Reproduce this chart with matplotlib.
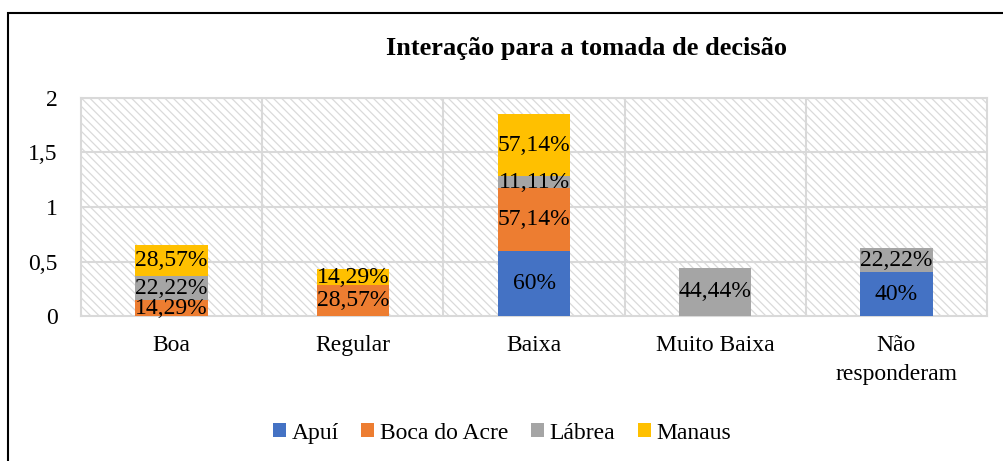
import matplotlib as mpl
mpl.use('agg')
import matplotlib.pyplot as plt
from matplotlib.patches import Rectangle
import numpy as np

categories = ["Boa", "Regular", "Baixa", "Muito Baixa", "Não\nresponderam"]
series = ["Apuí", "Boca do Acre", "Lábrea", "Manaus"]
apui = [0, 0, 0.60, 0, 0.40]
boca = [0.1429, 0.2857, 0.5714, 0, 0]
labrea = [0.2222, 0, 0.1111, 0.4444, 0.2222]
manaus = [0.2857, 0.1429, 0.5714, 0, 0]
colors = ["#4472c4", "#ed7d31", "#a5a5a5", "#ffc000"]

plt.rcParams['font.family'] = ['Liberation Serif', 'DejaVu Serif']
plt.rcParams['hatch.linewidth'] = 0.9
fs = 17

fig = plt.figure(figsize=(10.04, 4.61), dpi=100)
ax = fig.add_axes([81 / 1004, 1 - 316 / 461, (987 - 81) / 1004, (316 - 98) / 461])

# hatched plot area
ax.add_patch(Rectangle((0, 0), 1, 1, transform=ax.transAxes, facecolor='white',
                       edgecolor='#dadada', hatch='\\\\\\\\', lw=0, zorder=0))

x = np.arange(len(categories))
bottom = np.zeros(len(categories))
for name, vals, c in zip(series, [apui, boca, labrea, manaus], colors):
    vals = np.array(vals)
    ax.bar(x, vals, 0.4, bottom=bottom, color=c, label=name, zorder=3)
    for xi, v, b in zip(x, vals, bottom):
        if v > 0:
            txt = f"{v * 100:.2f}".replace('.', ',') + "%"
            if abs(v * 100 - round(v * 100)) < 1e-6:
                txt = f"{int(round(v * 100))}%"
            ax.text(xi, b + v / 2, txt, ha='center', va='center', fontsize=fs,
                    zorder=4)
    bottom += vals

ax.set_xlim(-0.5, len(categories) - 0.5)
ax.set_ylim(0, 2)
ax.set_yticks([0, 0.5, 1, 1.5, 2])
ax.set_yticklabels(["0", "0,5", "1", "1,5", "2"])
ax.set_xticks(x)
ax.set_xticklabels(categories, linespacing=1.45)
ax.tick_params(axis='both', length=0, labelsize=fs)
ax.tick_params(axis='x', pad=14)
ax.tick_params(axis='y', pad=17)
for yv in [0.5, 1, 1.5, 2]:
    ax.axhline(yv, color='#d9d9d9', lw=1.5, zorder=1)
for xv in np.arange(0.5, len(categories) - 0.5):
    ax.axvline(xv, color='#d9d9d9', lw=1.5, zorder=1)
for s in ax.spines.values():
    s.set_color('#d9d9d9')
    s.set_linewidth(1.5)

fig.text(587 / 1004, 1 - 48 / 461, "Interação para a tomada de decisão",
         ha='center', va='center', fontsize=19, fontweight='bold')

fig.legend(loc='center', bbox_to_anchor=(502 / 1004, 1 - 433 / 461), ncol=4,
           frameon=False, fontsize=fs, handlelength=0.55, handleheight=0.55,
           handletextpad=0.25, columnspacing=0.95)

# outer chart border (left and top visible)
fig.add_artist(Rectangle((8 / 1004, -0.1), 1.2, 1 - 13 / 461 + 0.1,
                         transform=fig.transFigure, fill=False,
                         edgecolor='black', lw=1.5))

fig.savefig('out.png', dpi=100)
